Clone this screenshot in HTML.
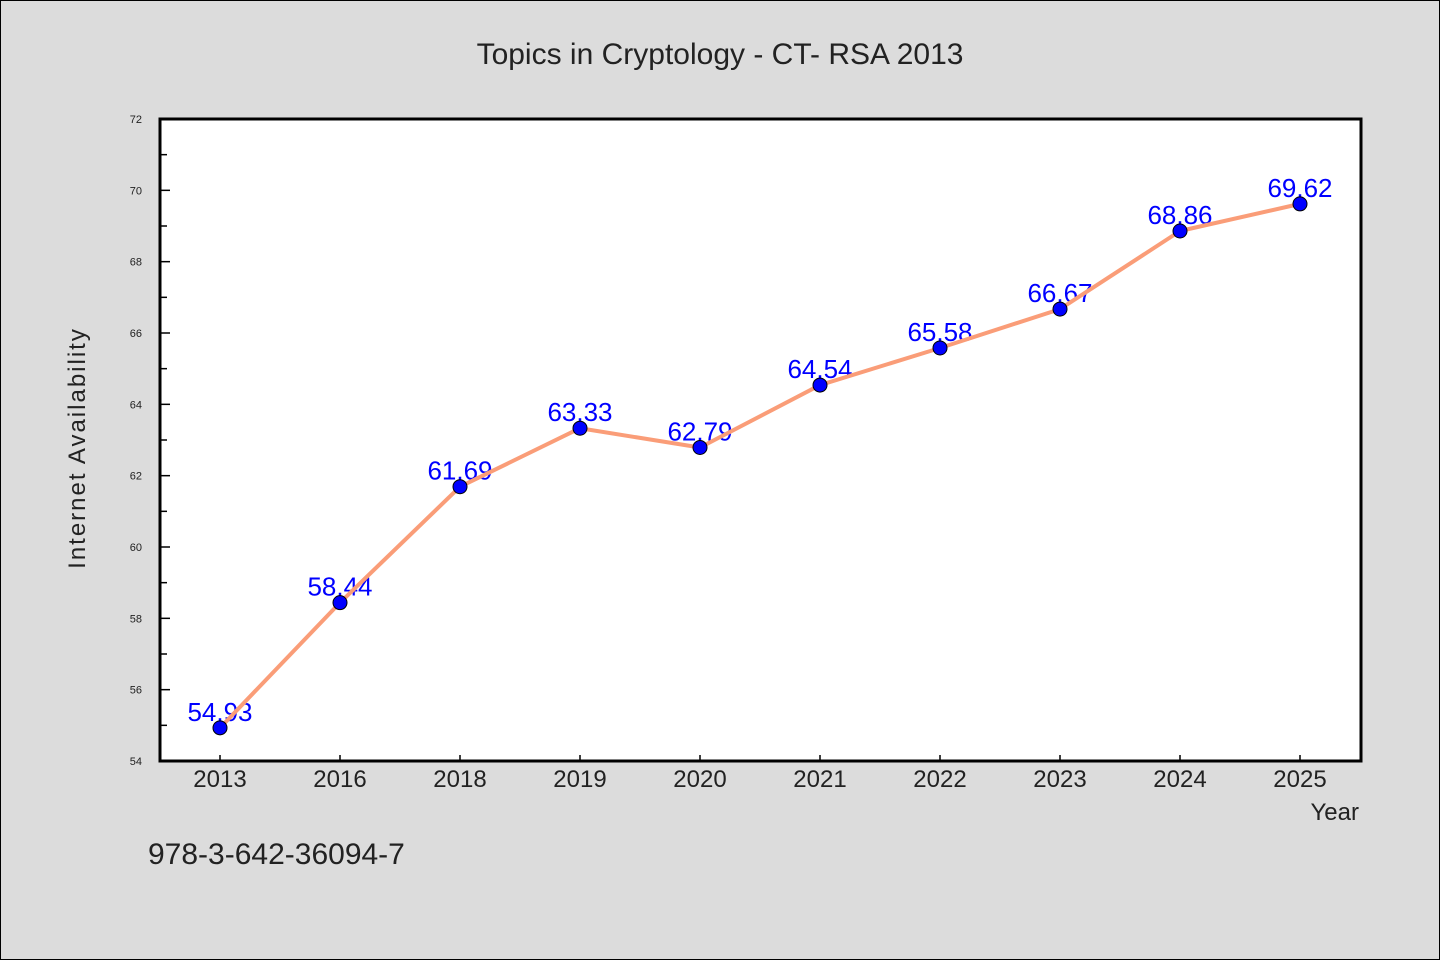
<!DOCTYPE html>
<html><head><meta charset="utf-8"><style>
body{margin:0;background:#dcdcdc}
svg{display:block;font-family:"WenQuanYi Zen Hei","Liberation Sans",sans-serif}
</style></head><body>
<svg id="chart" width="1440" height="960">
<rect x="0.5" y="0.5" width="1439" height="959" fill="#dcdcdc" stroke="#000"/>
<text x="720" y="64" text-anchor="middle" font-size="30" fill="#222">Topics in Cryptology - CT- RSA 2013</text>
<rect x="160" y="119" width="1201" height="642" fill="#fff"/>
<g id="yaxis"></g>
<g id="xaxis"></g>
<g id="series"></g>
<rect x="160" y="119" width="1201" height="642" fill="none" stroke="#000" stroke-width="3"/>
<text transform="translate(85,448) rotate(-90)" text-anchor="middle" font-size="24" fill="#222" letter-spacing="2">Internet Availability</text>
<text x="1359" y="820" text-anchor="end" font-size="24" fill="#222">Year</text>
<text x="148" y="864" font-size="30" fill="#222">978-3-642-36094-7</text>
</svg>
<script>
const categories=["2013","2016","2018","2019","2020","2021","2022","2023","2024","2025"];
const values=[54.93,58.44,61.69,63.33,62.79,64.54,65.58,66.67,68.86,69.62];
const valueLabels=["54.93","58.44","61.69","63.33","62.79","64.54","65.58","66.67","68.86","69.62"];
const yTicks=[54,56,58,60,62,64,66,68,70,72];
const yMin=54,yMax=72;
const L=160,R=1361,T=119,B=761;
const ns="http://www.w3.org/2000/svg";
function y(v){return B-(v-yMin)/(yMax-yMin)*(B-T);}
function x(i){return 220+i*120;}
function mk(tag,attrs,parent){const e=document.createElementNS(ns,tag);for(const k in attrs)e.setAttribute(k,attrs[k]);parent.appendChild(e);return e;}
const ya=document.getElementById('yaxis'),xa=document.getElementById('xaxis'),sg=document.getElementById('series');
yTicks.forEach(t=>{
  const l=mk('line',{x1:L,x2:L+10,y1:y(t),y2:y(t),stroke:'#000','stroke-width':1.5},ya);
  
  
  const tx=mk('text',{x:L-18,y:y(t)+4,'text-anchor':'end','font-size':11,fill:'#222'},ya);
  tx.textContent=t;
  
  
  if(t<yMax){const m=mk('line',{x1:L,x2:L+7,y1:y(t+1),y2:y(t+1),stroke:'#000','stroke-width':1.5},ya);
  
  }
});
categories.forEach((c,i)=>{
  const l=mk('line',{x1:x(i),x2:x(i),y1:B,y2:B-6,stroke:'#000','stroke-width':1.5},xa);
  
  
  const tx=mk('text',{x:x(i),y:B+26,'text-anchor':'middle','font-size':24,fill:'#222'},xa);
  tx.textContent=c;
  
  
});
values.forEach((v,i)=>{
  const t=mk('text',{x:x(i),y:y(v)-7,'text-anchor':'middle','font-size':26,fill:'#0000ff'},sg);
  t.textContent=valueLabels[i];
  
  
});
const line=mk('polyline',{points:values.map((v,i)=>x(i)+','+y(v)).join(' '),fill:'none',stroke:'#fa9d78','stroke-width':4,'stroke-linejoin':'round'},sg);


values.forEach((v,i)=>{
  const c=mk('circle',{cx:x(i),cy:y(v),r:7,fill:'#0000ff',stroke:'#000','stroke-width':1},sg);
  
  
});
</script>
</body></html>
